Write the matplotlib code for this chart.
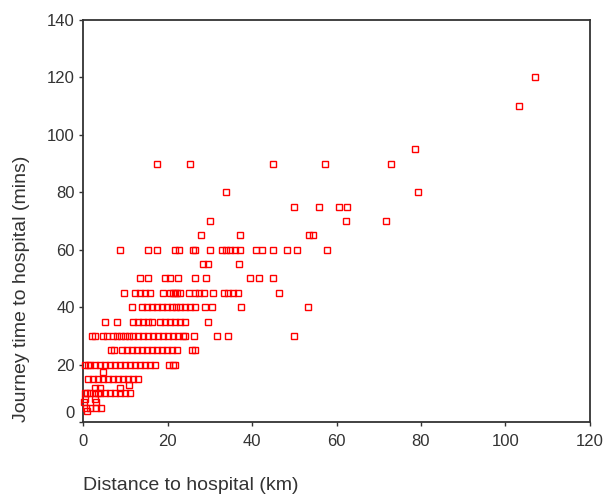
import matplotlib
matplotlib.use("Agg")
import matplotlib.pyplot as plt
import matplotlib.transforms as mtransforms

plt.rcParams['font.family'] = ['Liberation Sans', 'DejaVu Sans']

# Journey time rows (mins) and the distances (km) of the points on each row
time_120 = [107.1]
time_110 = [103.3]
time_95 = [78.6]
time_90 = [17.6, 25.3, 44.9, 57.3, 72.8]
time_80 = [33.9, 79.2]
time_75 = [49.9, 55.9, 60.7, 62.4]
time_70 = [30.1, 62.2, 71.6]
time_65 = [27.9, 37.2, 53.6, 54.4]
time_60 = [8.8, 15.4, 17.4, 21.8, 22.8, 26.0, 26.5, 30.1, 32.8, 33.8, 34.8,
           35.9, 37.2, 40.9, 42.3, 44.9, 48.4, 50.6, 57.7]
time_55 = [28.3, 29.7, 37.0]
time_50 = [13.6, 15.5, 19.4, 20.6, 22.6, 26.5, 29.1, 39.5, 41.7, 44.9]
time_45 = [9.8, 12.3, 13.5, 14.7, 15.9, 18.9, 20.6, 21.4, 21.8, 22.2, 23.0,
           25.0, 26.5, 27.5, 28.7, 30.7, 33.4, 34.4, 35.6, 36.8, 46.4]
time_40 = [11.5, 13.9, 15.1, 16.3, 17.4, 18.6, 19.8, 21.0, 22.0, 23.0, 24.1,
           25.3, 26.5, 28.9, 30.5, 37.3, 53.3]
time_35 = [5.2, 8.1, 11.9, 13.1, 14.3, 15.5, 16.3, 18.2, 19.4, 20.6, 21.8,
           23.0, 24.1, 29.7]
time_30 = [2.1, 2.8, 4.7, 5.6, 7.0, 8.0, 8.9, 9.9, 11.0, 11.9, 13.1, 14.3,
           15.5, 16.6, 17.8, 19.0, 20.2, 21.4, 22.5, 23.7, 24.1, 26.3, 31.8,
           34.4, 49.9]
time_25 = [6.6, 7.3, 9.2, 10.3, 11.5, 12.7, 13.9, 15.1, 16.3, 17.4, 18.6,
           19.8, 21.0, 22.2, 25.7, 26.5]
time_20 = [0.5, 1.2, 1.7, 2.8, 4.0, 5.2, 6.4, 7.6, 8.8, 9.9, 11.1, 12.3, 13.5,
           14.7, 15.9, 17.0, 20.4, 21.4, 21.8]
time_17 = [4.7]
time_15 = [1.3, 2.4, 3.6, 4.8, 6.0, 7.2, 8.4, 9.5, 10.7, 11.9, 13.1]
time_13 = [11.0]
time_12 = [2.8, 4.0, 8.8]
time_10 = [0.5, 1.0, 1.7, 2.8, 3.5, 4.0, 5.2, 6.4, 7.6, 8.8, 9.9, 11.1]
time_8 = [0.5, 2.8]
time_7 = [0.2, 3.1]
time_5 = [0.7, 1.7, 3.1, 4.2]
time_4 = [0.9]

row_times = [120, 110, 95, 90, 80, 75, 70, 65, 60, 55, 50, 45, 40, 35, 30, 25,
             20, 17.5, 15, 13, 12, 10, 8, 7, 5, 4]
row_distances = [time_120, time_110, time_95, time_90, time_80, time_75,
                 time_70, time_65, time_60, time_55, time_50, time_45, time_40,
                 time_35, time_30, time_25, time_20, time_17, time_15, time_13,
                 time_12, time_10, time_8, time_7, time_5, time_4]

distance_km = []
journey_min = []
for t, ds in zip(row_times, row_distances):
    for d in ds:
        distance_km.append(d)
        journey_min.append(t)

x_ticks = [0, 20, 40, 60, 80, 100, 120]
y_ticks = [0, 20, 40, 60, 80, 100, 120, 140]

fig = plt.figure(figsize=(6.07, 4.97), dpi=100)
ax = fig.add_axes([83 / 607, 1 - 422 / 497, (590 - 83) / 607, (422 - 20) / 497])

ax.plot(distance_km, journey_min, linestyle='none', marker='s',
        markersize=4.8, markerfacecolor='none', markeredgecolor='#ff0000',
        markeredgewidth=1.0, clip_on=False, zorder=3)

ax.set_xlim(0, 120)
ax.set_ylim(0, 140)
ax.set_xticks(x_ticks)
ax.set_yticks(y_ticks)
ax.tick_params(axis='both', direction='out', length=3, width=1,
               color='#333333', labelsize=12, labelcolor='#333333')
ax.tick_params(axis='x', pad=6)
ax.tick_params(axis='y', pad=3)
for s in ax.spines.values():
    s.set_color('#333333')
    s.set_linewidth(1.3)

# SPSS-style: lift the '0' y tick label up a little
lbl0 = ax.get_yticklabels()[0]
lbl0.set_transform(lbl0.get_transform() +
                   mtransforms.ScaledTranslation(0, 7 / 72, fig.dpi_scale_trans))

ax.set_xlabel('Distance to hospital (km)', fontsize=14, color='#333333',
              loc='left', labelpad=20)
ax.set_ylabel('Journey time to hospital (mins)', fontsize=14,
              color='#333333', loc='bottom', labelpad=12)

fig.savefig('out.png', dpi=100, facecolor='white')
